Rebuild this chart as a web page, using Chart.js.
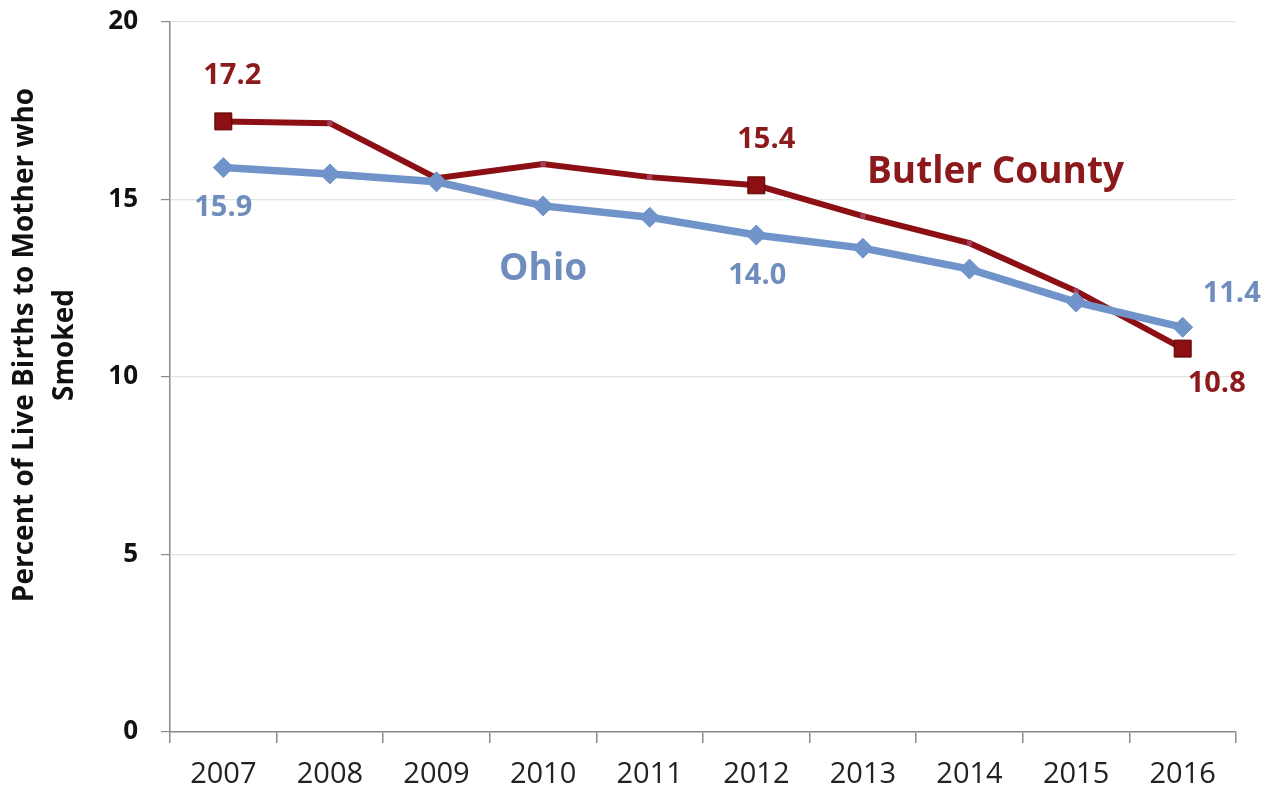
<!DOCTYPE html>
<html>
<head>
<meta charset="utf-8">
<script src="https://cdn.jsdelivr.net/npm/chart.js@4/dist/chart.umd.min.js"></script>
<style>
  html, body { margin: 0; padding: 0; background: #fff; }
  #wrap { width: 1274px; height: 791px; }
</style>
</head>
<body>
<div id="wrap"><canvas id="smokeChart" width="1274" height="791"></canvas></div>
<script>
// values
const years = ['2007', '2008', '2009', '2010', '2011', '2012', '2013', '2014', '2015', '2016'];
const butlerCounty = [17.2, 17.15, 15.6, 16.0, 15.63, 15.4, 14.53, 13.77, 12.42, 10.8];
const ohio = [15.9, 15.72, 15.5, 14.82, 14.5, 14.0, 13.63, 13.04, 12.11, 11.4];
const yTicks = [0, 5, 10, 15, 20];
const yTitle = ['Percent of Live Births to Mother who', 'Smoked'];

const RED = '#8c0f14';
const BLUE = '#7094c9';
const RED_TEXT = '#8c1a1c';
const BLUE_TEXT = '#6f8dbd';

// which points get a value label (and a big marker), with label offsets in px
const butlerLabels = [
  { i: 0, dx: 9, dy: -46 },
  { i: 5, dx: 10, dy: -46 },
  { i: 9, dx: 34, dy: 35 }
];
const ohioLabels = [
  { i: 0, dx: 0, dy: 40 },
  { i: 5, dx: 1, dy: 41 },
  { i: 9, dx: 49, dy: -34 }
];

const annotate = {
  id: 'annotate',
  afterDatasetsDraw(chart) {
    const ctx = chart.ctx;
    const x = chart.scales.x, y = chart.scales.y;
    ctx.save();
    ctx.textAlign = 'center';
    ctx.textBaseline = 'middle';
    ctx.font = 'bold 29px "Open Sans"';
    ctx.fillStyle = RED_TEXT;
    butlerLabels.forEach(l => {
      ctx.fillText(butlerCounty[l.i].toFixed(1),
        x.getPixelForValue(l.i) + l.dx, y.getPixelForValue(butlerCounty[l.i]) + l.dy);
    });
    ctx.fillStyle = BLUE_TEXT;
    ohioLabels.forEach(l => {
      ctx.fillText(ohio[l.i].toFixed(1),
        x.getPixelForValue(l.i) + l.dx, y.getPixelForValue(ohio[l.i]) + l.dy);
    });
    // series names
    ctx.font = 'bold 37px "Open Sans"';
    ctx.fillStyle = BLUE_TEXT;
    ctx.fillText('Ohio', x.getPixelForValue(3), y.getPixelForValue(ohio[3]) + 64);
    ctx.fillStyle = RED_TEXT;
    ctx.fillText('Butler County', x.getPixelForValue(7) + 26, y.getPixelForValue(butlerCounty[7]) - 71);

    // y axis title, two rotated lines (sits a bit above the plot centre, like the original)
    ctx.translate(0, 345);
    ctx.rotate(-Math.PI / 2);
    ctx.font = 'bold 28px "Open Sans"';
    ctx.fillStyle = '#111';
    ctx.textBaseline = 'alphabetic';
    yTitle.forEach((t, k) => ctx.fillText(t, 0, 33 + k * 40));
    ctx.restore();
  }
};

const bigButler = new Set(butlerLabels.map(l => l.i));

new Chart(document.getElementById('smokeChart'), {
  type: 'line',
  data: {
    labels: years,
    datasets: [
      {
        label: 'Ohio',
        data: ohio,
        borderColor: BLUE,
        backgroundColor: BLUE,
        borderWidth: 7.5,
        pointStyle: 'rectRot',
        pointRadius: 10,
        pointBorderWidth: 1,
        pointBorderColor: BLUE,
        tension: 0
      },
      {
        label: 'Butler County',
        data: butlerCounty,
        borderColor: RED,
        backgroundColor: c => bigButler.has(c.dataIndex) ? RED : '#a3405a',
        borderWidth: 6,
        pointStyle: 'rect',
        pointRadius: c => bigButler.has(c.dataIndex) ? 12 : 3,
        pointBorderWidth: 1,
        pointBorderColor: c => bigButler.has(c.dataIndex) ? '#5a0000' : '#a3405a',
        tension: 0
      }
    ]
  },
  options: {
    responsive: false,
    animation: false,
    layout: { padding: { left: 0, right: 38, top: 22, bottom: 0 } },
    plugins: {
      legend: { display: false },
      tooltip: { enabled: false }
    },
    scales: {
      x: {
        offset: true,
        afterFit: s => { s.height = 59; },
        grid: {
          offset: true,
          drawOnChartArea: false,
          tickLength: 11,
          tickColor: '#8a8a8a',
          lineWidth: 1.5
        },
        border: { color: '#8a8a8a', width: 1.5 },
        ticks: {
          color: '#222',
          font: { family: '"Open Sans"', size: 29 },
          padding: 14,
          maxRotation: 0
        }
      },
      y: {
        min: 0,
        max: 20,
        afterFit: s => { s.width = 170; s.paddingTop = 0; s.paddingBottom = 0; },
        afterBuildTicks: s => { s.ticks = yTicks.map(v => ({ value: v })); },
        grid: {
          color: '#e4e4e4',
          lineWidth: 1.2,
          tickLength: 9,
          tickColor: '#8a8a8a'
        },
        border: { color: '#8a8a8a', width: 1.5 },
        ticks: {
          color: '#111',
          font: { family: '"Open Sans"', size: 26, weight: 'bold' },
          padding: 23
        }
      }
    }
  },
  plugins: [annotate]
});
</script>
</body>
</html>
